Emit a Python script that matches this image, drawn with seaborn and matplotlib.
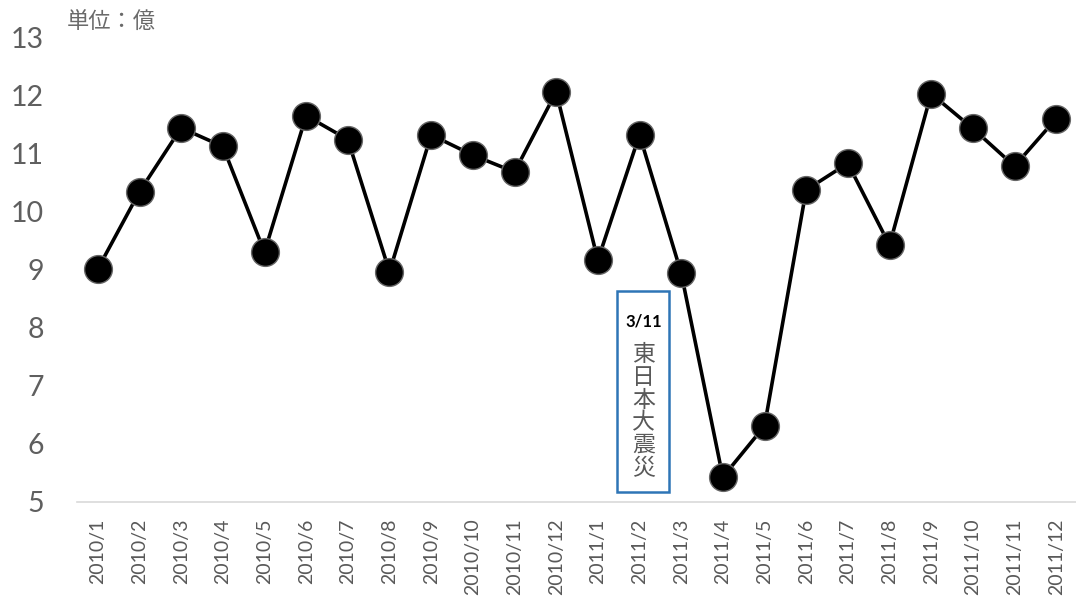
import matplotlib
matplotlib.use("Agg")
import matplotlib.pyplot as plt
import matplotlib.patches as mpatches
import seaborn as sns
import pandas as pd

months = ["2010/1", "2010/2", "2010/3", "2010/4", "2010/5", "2010/6", "2010/7", "2010/8",
          "2010/9", "2010/10", "2010/11", "2010/12", "2011/1", "2011/2", "2011/3", "2011/4",
          "2011/5", "2011/6", "2011/7", "2011/8", "2011/9", "2011/10", "2011/11", "2011/12"]
values = [9.02, 10.35, 11.45, 11.13, 9.31, 11.66, 11.25, 8.97,
          11.33, 10.98, 10.69, 12.07, 9.17, 11.33, 8.95, 5.43,
          6.31, 10.38, 10.84, 9.43, 12.04, 11.44, 10.79, 11.61]
y_ticks = [5, 6, 7, 8, 9, 10, 11, 12, 13]
unit_label = "単位：億"
event_date = "3/11"
event_label = "東日本大震災"

sns.set_theme(style="white")
plt.rcParams["font.family"] = ["Lato", "Noto Sans CJK JP", "DejaVu Sans"]

df = pd.DataFrame({"month": months, "value": values})

fig = plt.figure(figsize=(10.76, 6.01), dpi=100)
ax = fig.add_axes([77 / 1076, 99 / 601, 1000 / 1076, 464 / 601])

sns.lineplot(data=df, x="month", y="value", sort=False, ax=ax, color="black",
             linewidth=2.6, marker="o", markersize=20, markerfacecolor="black",
             markeredgecolor="#666666", markeredgewidth=1.0)

ax.set_xlim(-0.5, len(months) - 0.5)
ax.set_ylim(5, 13)
ax.set_yticks(y_ticks)
ax.set_yticklabels([str(t) for t in y_ticks], fontsize=20.5, color="#5f5f5f")
ax.set_xticks(range(len(months)))
ax.set_xticklabels(months, rotation=90, fontsize=14, color="#595959")
ax.set_xticks([i - 0.5 for i in range(len(months) + 1)], minor=True)
ax.tick_params(axis="x", which="major", length=0, pad=12)
ax.tick_params(axis="x", which="minor", length=6, width=1, color="#d9d9d9", direction="out")
ax.tick_params(axis="y", length=0, pad=24)
ax.set_xlabel("")
ax.set_ylabel("")
for s in ["top", "right", "left"]:
    ax.spines[s].set_visible(False)
ax.spines["bottom"].set_color("#d9d9d9")
ax.spines["bottom"].set_linewidth(1.2)
ax.grid(False)

fig.text(67 / 1076, 1 - 22 / 601, unit_label, fontsize=16, color="#6a6a6a",
         ha="left", va="center", family=["Noto Sans CJK JP", "DejaVu Sans"])

# annotation box
rect = mpatches.Rectangle((12.47, 5.17), 1.24, 3.47, transform=ax.transData,
                          fill=False, edgecolor="#2E75B6", linewidth=1.8, clip_on=False, zorder=1)
ax.add_patch(rect)
ax.text(13.09, 8.12, event_date, ha="center", va="center", fontsize=12,
        fontweight="bold", color="black", family=["Lato", "DejaVu Sans"])
ax.text(13.09, 6.56, "\n".join(event_label), ha="center", va="center", fontsize=16.5,
        color="#595959", linespacing=0.98, family=["Noto Sans CJK JP", "DejaVu Sans"])

fig.savefig("out.png", dpi=100)
